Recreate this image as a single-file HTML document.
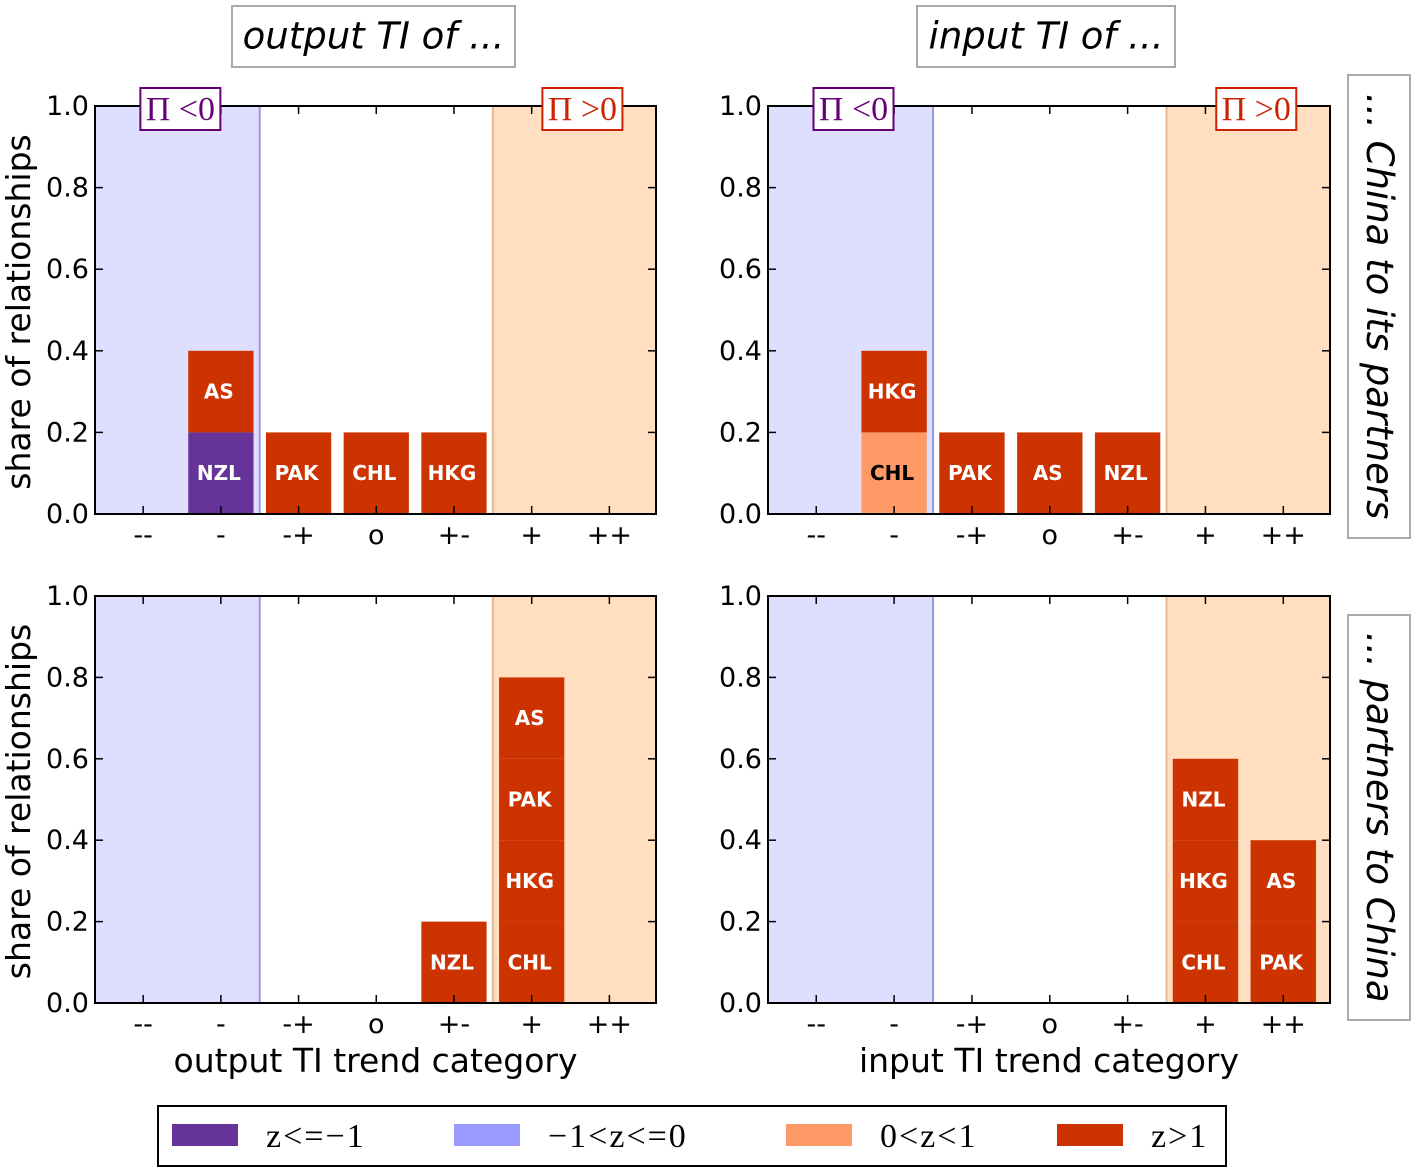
<!DOCTYPE html>
<html><head><meta charset="utf-8"><style>
body{margin:0;background:#fff;}
svg{display:block;font-family:"DejaVu Sans","Liberation Sans",sans-serif;}
</style></head><body>
<svg id="c" width="1417" height="1172" viewBox="0 0 1417 1172"></svg>
<script>
const categories = ["--","-","-+","o","+-","+","++"];
const yTicks = [0.0,0.2,0.4,0.6,0.8,1.0];
// segments per panel: category index, label, class (0: z<=-1, 1: -1<z<=0, 2: 0<z<1, 3: z>1), value
const tlCat = [1,1,2,3,4];
const tlLab = ["NZL","AS","PAK","CHL","HKG"];
const tlCls = [0,3,3,3,3];
const tlVal = [0.2,0.2,0.2,0.2,0.2];
const trCat = [1,1,2,3,4];
const trLab = ["CHL","HKG","PAK","AS","NZL"];
const trCls = [2,3,3,3,3];
const trVal = [0.2,0.2,0.2,0.2,0.2];
const blCat = [4,5,5,5,5];
const blLab = ["NZL","CHL","HKG","PAK","AS"];
const blCls = [3,3,3,3,3];
const blVal = [0.2,0.2,0.2,0.2,0.2];
const brCat = [5,5,5,6,6];
const brLab = ["CHL","HKG","NZL","PAK","AS"];
const brCls = [3,3,3,3,3];
const brVal = [0.2,0.2,0.2,0.2,0.2];
const legendLabels = ["z<=\u22121","\u22121<z<=0","0<z<1","z>1"];
const classColors = ["#663399","#9999ff","#ff9966","#cc3300"];

const svg = document.getElementById('c');
const NS = "http://www.w3.org/2000/svg";
function mk(tag, attrs, parent){const e=document.createElementNS(NS,tag);for(const k in attrs)e.setAttribute(k,attrs[k]);(parent||svg).appendChild(e);return e;}

function panel(name, x0, x1, yTop, yBot, cats, labs, clss, vals, showPi, yTitle, xTitle){
  const g = mk('g',{});
  
  
  const xs = v => x0 + (v + 0.62) / 7.22 * (x1 - x0);
  const ys = v => yBot - v * (yBot - yTop);
  const r1 = mk('rect',{x:x0,y:yTop,width:xs(1.5)-x0,height:yBot-yTop,fill:"#dedeff"},g);
  
  
  mk('line',{x1:xs(1.5),x2:xs(1.5),y1:yTop,y2:yBot,stroke:"#9999dd","stroke-width":2},g);
  const r2 = mk('rect',{x:xs(4.5),y:yTop,width:x1-xs(4.5),height:yBot-yTop,fill:"#ffdfbf"},g);
  
  
  mk('line',{x1:xs(4.5),x2:xs(4.5),y1:yTop,y2:yBot,stroke:"#e8b890","stroke-width":2},g);
  const stack = {};
  for(let i=0;i<cats.length;i++){
    const c=cats[i], base=stack[c]||0, v=vals[i];
    const r = mk('rect',{x:xs(c-0.42),y:ys(base+v),width:xs(c+0.42)-xs(c-0.42),height:ys(base)-ys(base+v),fill:classColors[clss[i]]},g);
    
    
    const t = mk('text',{x:xs(c)-2,y:ys(base+v/2)+7,"text-anchor":"middle","font-size":20,"font-weight":"bold",fill:clss[i]==2?"#000":"#fff"},g);
    t.textContent = labs[i];
    
    
    stack[c]=base+v;
  }
  mk('rect',{x:x0,y:yTop,width:x1-x0,height:yBot-yTop,fill:"none",stroke:"#000","stroke-width":2},g);
  yTicks.forEach(v=>{
    mk('line',{x1:x0,x2:x0+8,y1:ys(v),y2:ys(v),stroke:"#000","stroke-width":1.5},g);
    mk('line',{x1:x1,x2:x1-8,y1:ys(v),y2:ys(v),stroke:"#000","stroke-width":1.5},g);
    const t=mk('text',{x:x0-6,y:ys(v)+9,"text-anchor":"end","font-size":27},g);
    t.textContent=v.toFixed(1);
    
    
  });
  categories.forEach((c,i)=>{
    mk('line',{x1:xs(i),x2:xs(i),y1:yBot,y2:yBot-8,stroke:"#000","stroke-width":1.5},g);
    mk('line',{x1:xs(i),x2:xs(i),y1:yTop,y2:yTop+8,stroke:"#000","stroke-width":1.5},g);
    const t=mk('text',{x:xs(i),y:yBot+30,"text-anchor":"middle","font-size":27},g);
    t.textContent=c;
    
    
  });
  if(showPi){
    [[1,"\u03A0 <0","#660077"],[5.7,"\u03A0 >0","#cc2200"]].forEach(p=>{
      const cx = p[0]===1 ? (x0+xs(1.5))/2 + 3 : (xs(4.5)+x1)/2 + 8;
      mk('rect',{x:cx-40,y:yTop-18,width:80,height:42,fill:"#fff",stroke:p[2],"stroke-width":2},g);
      const t=mk('text',{x:cx,y:yTop+14,"text-anchor":"middle","font-size":34,"font-family":"Liberation Serif, serif",fill:p[2]},g);
      t.textContent=p[1];
      
      
    });
  }
  if(yTitle){
    const t=mk('text',{x:0,y:0,"text-anchor":"middle","font-size":33,transform:`translate(30,${(yTop+yBot)/2+2}) rotate(-90)`},g);
    t.textContent="share of relationships";
    
    
  }
  if(xTitle){
    const t=mk('text',{x:(x0+x1)/2,y:yBot+69,"text-anchor":"middle","font-size":33},g);
    t.textContent=xTitle;
    
    
  }
}
panel('panel-output-china-to-partners',95,656,106,514,tlCat,tlLab,tlCls,tlVal,true,true,null);
panel('panel-input-china-to-partners',768,1330,106,514,trCat,trLab,trCls,trVal,true,false,null);
panel('panel-output-partners-to-china',95,656,596,1003,blCat,blLab,blCls,blVal,false,true,"output TI trend category");
panel('panel-input-partners-to-china',768,1330,596,1003,brCat,brLab,brCls,brVal,false,false,"input TI trend category");

function box(name,x,y,w,h,text,rot){
  const g=mk('g',{});
  
  
  mk('rect',{x:x,y:y,width:w,height:h,fill:"#fff",stroke:"#aaa","stroke-width":2},g);
  const cx=x+w/2, cy=y+h/2;
  const t=mk('text',{x:0,y:12,"text-anchor":"middle","font-size":37,"font-style":"italic",transform:`translate(${cx},${cy}) rotate(${rot})`},g);
  t.textContent=text;
}
box('title-output',232,6,283,61,"output TI of ...",0);
box('title-input',917,6,258,61,"input TI of ...",0);
box('row-label-china-to-partners',1348,75,62,463,"... China to its partners",90);
box('row-label-partners-to-china',1348,615,62,405,"... partners to China",90);

const lg=mk('g',{});


mk('rect',{x:158,y:1106,width:1068,height:60,fill:"#fff",stroke:"#000","stroke-width":2},lg);
const swX=[172,454,786,1057];
legendLabels.forEach((l,i)=>{
  const s=mk('rect',{x:swX[i],y:1124,width:66,height:22,fill:classColors[i]},lg);
  
  
  const t=mk('text',{x:swX[i]+94,y:1147,"font-size":34,"font-family":"Liberation Serif, serif","letter-spacing":"2"},lg);
  t.textContent=l;
  
  
});
</script>
</body></html>
